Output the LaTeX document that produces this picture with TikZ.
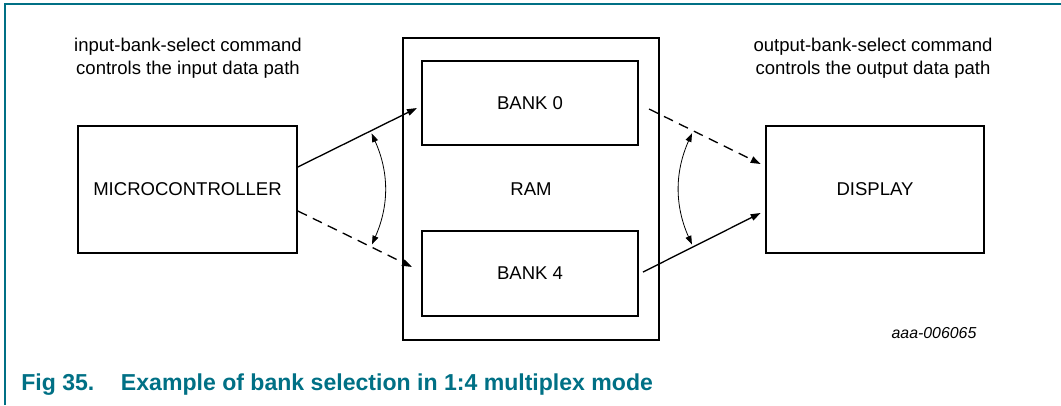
\documentclass[tikz,border=0pt]{standalone}
\usepackage{fontspec}
\setmainfont{Liberation Sans}
\usepackage{tikz}
\usetikzlibrary{arrows.meta,positioning}
\definecolor{figteal}{RGB}{0,112,133}

\begin{document}
\begin{tikzpicture}[
  x=0.75pt, y=-0.75pt, font=\fontsize{13.9}{17.25}\selectfont,
  >={Triangle[length=7.5pt,width=5pt]},
  box/.style={draw, line width=1.5pt, inner sep=0pt, align=center},
  unit/.style={box, minimum width=164pt, minimum height=95pt},
  bank/.style={box, minimum width=162pt, minimum height=63.5pt},
  flow/.style={->, line width=1pt},
  dflow/.style={flow, dash pattern=on 7.5pt off 5pt},
  swing/.style={{Triangle[length=6.5pt,width=4.5pt]}-{Triangle[length=6.5pt,width=4.5pt]},
                line width=0.6pt, shorten <=2pt, shorten >=2pt}]
\useasboundingbox (0,0) rectangle (1061,405);
% frame
\draw[figteal, line width=1.1pt] (5,405) -- (5,4) -- (1061,4);
% command notes
\node[align=center] (incmd) at (188,58.5) {input-bank-select command\\controls the input data path};
\node[align=center] (outcmd) at (873,58.5) {output-bank-select command\\controls the output data path};
% blocks
\node[unit] (mcu) at (187.5,189.5) {MICROCONTROLLER};
\node[unit] (disp) at (875,189.5) {DISPLAY};
\node[box, minimum width=192pt, minimum height=226.5pt] (ram) at (531,189) {RAM};
\node[bank] (bank0) at (530,103) {BANK 0};
\node[bank] (bank4) at (530,273.5) {BANK 4};
% data paths
\draw[flow] ([yshift=16.9pt]mcu.east) -- coordinate[pos=0.61] (in0)
      ([xshift=-3pt,yshift=-3.75pt]bank0.west);
\draw[dflow] ([yshift=-16.1pt]mcu.east) -- coordinate[pos=0.64] (in4)
      ([xshift=-6.75pt,yshift=4.9pt]bank4.west);
\draw[dflow] ([xshift=7.5pt,yshift=-4.5pt]bank0.east) -- coordinate[pos=0.395] (out0)
      ([xshift=-3pt,yshift=19.1pt]disp.west);
\draw[flow] ([xshift=3pt,yshift=1.1pt]bank4.east) -- coordinate[pos=0.425] (out4)
      ([xshift=-3pt,yshift=-17.6pt]disp.west);
% selection swings
\draw[swing] (in0) to[bend left=24] (in4);
\draw[swing] (out0) to[bend right=24] (out4);
% labels
\node[font=\fontsize{11.9}{14}\selectfont\itshape] (code) at (934,333) {aaa-006065};
\node[anchor=base west, inner sep=0pt, text=figteal,
      font=\fontsize{17.3}{20}\selectfont\bfseries] (cap) at (21,390)
      {Fig 35.\hspace{20pt}Example of bank selection in 1:4 multiplex mode};
\end{tikzpicture}
\end{document}
